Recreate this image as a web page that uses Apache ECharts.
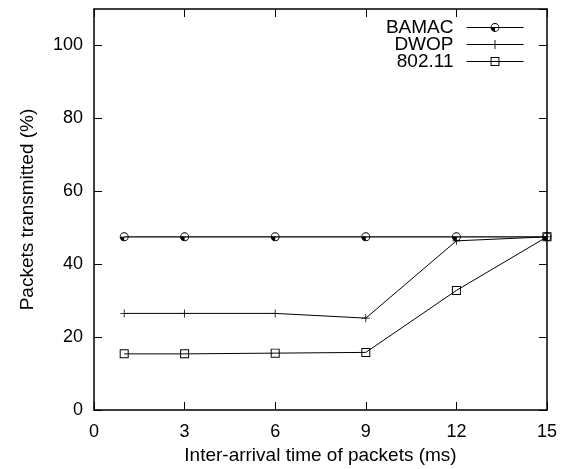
<!DOCTYPE html>
<html>
<head>
<meta charset="utf-8">
<script src="https://cdn.jsdelivr.net/npm/echarts@6/dist/echarts.min.js"></script>
<style>html,body{margin:0;padding:0;background:#fff;}#c{width:575px;height:469px;}</style>
</head>
<body>
<div id="c"></div>
<script>
const xValues = [1, 3, 6, 9, 12, 15];
const bamac = [47.5, 47.5, 47.5, 47.5, 47.5, 47.5];
const dwop = [26.5, 26.5, 26.5, 25.2, 46.4, 47.5];
const ieee80211 = [15.4, 15.4, 15.6, 15.8, 32.8, 47.5];
const seriesNames = ['BAMAC', 'DWOP', '802.11'];
const yTicks = [0, 20, 40, 60, 80, 100];

const FONT = 'Liberation Sans, Arial, sans-serif';
const halfCircle = 'path://M0,10 A10,10 0 1,1 20,10 A10,10 0 1,1 0,10 Z M2,10 A8,8 0 1,0 18,10 A8,8 0 1,0 2,10 Z M10,10 L2,10 A8,8 0 0,0 10,18 Z';
const plus = 'path://M4.5,0 H5.5 V4.5 H10 V5.5 H5.5 V10 H4.5 V5.5 H0 V4.5 H4.5 Z';
const square = 'path://M0,0 H10 V10 H0 Z M1.1,1.1 V8.9 H8.9 V1.1 Z';

function pairs(ys) { return xValues.map((x, i) => [x, ys[i]]); }

const chart = echarts.init(document.getElementById('c'), null, {renderer: 'canvas'});
const axisCommon = {
  axisLine: {show: true, onZero: false, lineStyle: {color: '#000', width: 1.5}},
  axisTick: {show: true, inside: true, length: 8, lineStyle: {color: '#000', width: 1}},
  splitLine: {show: false}
};
const legendBase = (name, top) => ({
  data: [name], right: 51, top: top, padding: 0, align: 'right',
  itemWidth: 57, itemHeight: 11, itemGap: 0, selectedMode: false,
  lineStyle: {width: 1},
  textStyle: {fontFamily: FONT, fontSize: 19, lineHeight: 19, color: '#000', padding: [0, 8, 0, 0]}
});
chart.setOption({
  animation: false,
  backgroundColor: '#fff',
  grid: {left: 94, right: 28, top: 9, bottom: 59, containLabel: false, outerBoundsMode: 'none'},
  legend: [legendBase('BAMAC', 18), legendBase('DWOP', 35), legendBase('802.11', 52)],
  xAxis: [
    Object.assign({}, axisCommon, {
      type: 'value', min: 0, max: 15, interval: 3, position: 'bottom',
      name: 'Inter-arrival time of packets (ms)', nameLocation: 'middle', nameGap: 36,
      nameTextStyle: {fontFamily: FONT, fontSize: 19, color: '#000'},
      axisLabel: {fontFamily: FONT, fontSize: 18, color: '#000', margin: 13}
    }),
    Object.assign({}, axisCommon, {
      type: 'value', min: 0, max: 15, interval: 3, position: 'top',
      axisLabel: {show: false}
    })
  ],
  yAxis: [
    Object.assign({}, axisCommon, {
      type: 'value', min: 0, max: 110, interval: 20, position: 'left',
      name: 'Packets transmitted (%)', nameLocation: 'middle', nameGap: 57,
      nameTextStyle: {fontFamily: FONT, fontSize: 19, color: '#000'},
      axisLabel: {fontFamily: FONT, fontSize: 18, color: '#000', margin: 11, showMaxLabel: false,
        formatter: v => (yTicks.indexOf(v) >= 0 ? String(v) : '')}
    }),
    Object.assign({}, axisCommon, {
      type: 'value', min: 0, max: 110, interval: 20, position: 'right',
      axisLabel: {show: false}
    })
  ],
  series: [
    {name: seriesNames[0], type: 'line', data: pairs(bamac), symbol: halfCircle, symbolSize: 9,
      itemStyle: {color: '#000'}, lineStyle: {color: '#000', width: 1.2}, z: 3},
    {name: seriesNames[1], type: 'line', data: pairs(dwop), symbol: plus, symbolSize: 8,
      itemStyle: {color: '#000'}, lineStyle: {color: '#000', width: 1}, z: 2},
    {name: seriesNames[2], type: 'line', data: pairs(ieee80211), symbol: square, symbolSize: 9,
      itemStyle: {color: '#000'}, lineStyle: {color: '#000', width: 1}, z: 2}
  ]
});
</script>
</body>
</html>
